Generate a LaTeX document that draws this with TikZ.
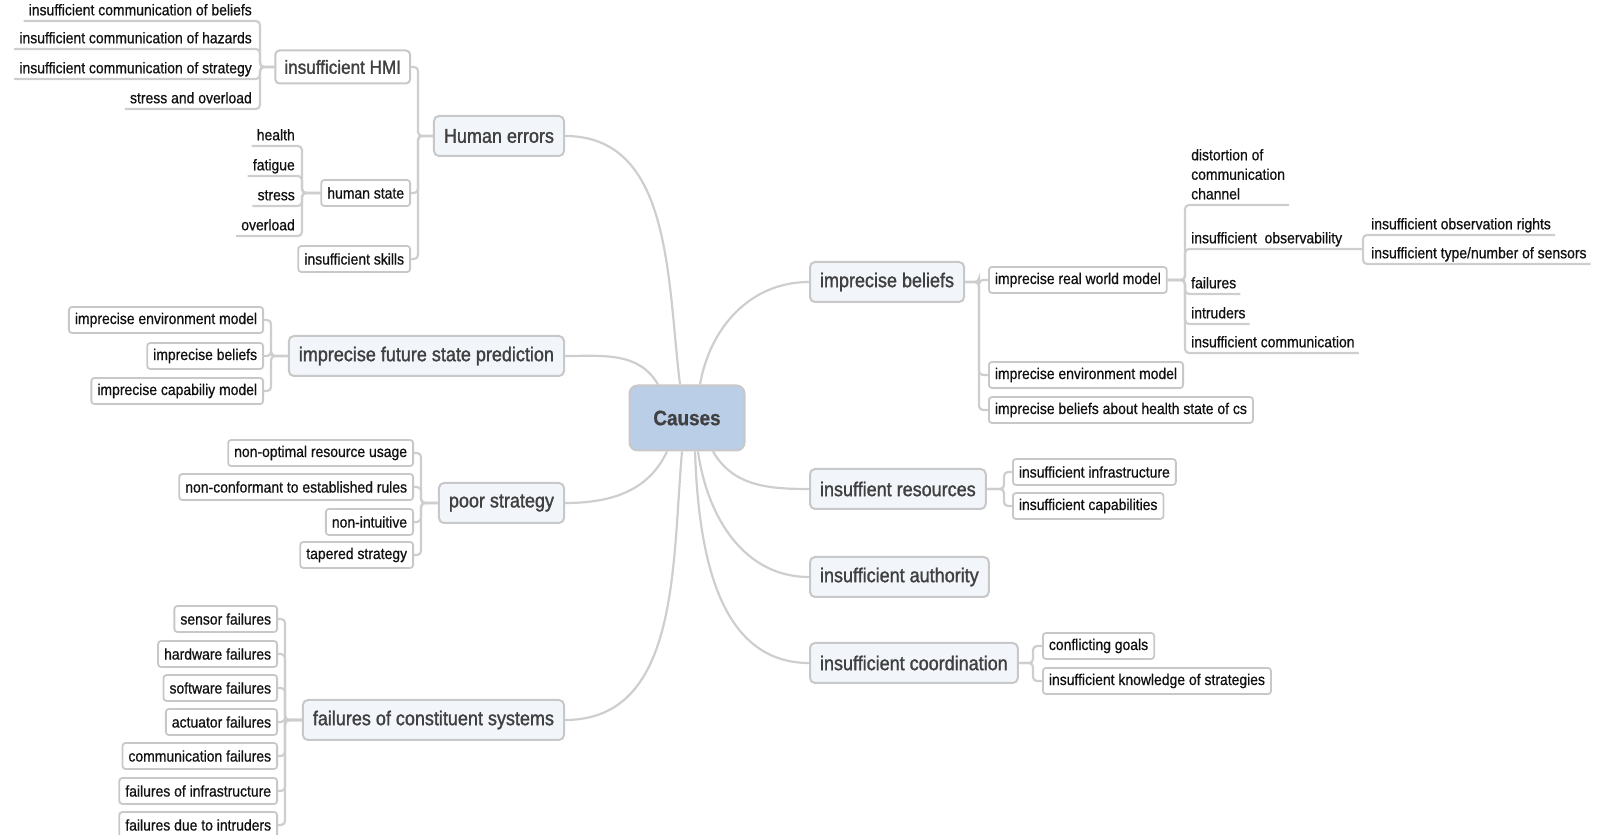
\documentclass[tikz,border=0pt]{standalone}
\usepackage{fontspec}
\setmainfont[FakeStretch=0.9,FakeBold=0.7]{Liberation Sans}
\newfontfamily\topicfont[FakeStretch=0.9,FakeBold=1.4]{Liberation Sans}
\usepackage{tikz}
\definecolor{rootfill}{RGB}{187,206,231}
\definecolor{topicfill}{RGB}{242,245,250}
\definecolor{boxline}{RGB}{200,200,200}
\definecolor{linkgray}{RGB}{206,206,206}
\definecolor{topictext}{RGB}{64,64,64}
\definecolor{leaftext}{RGB}{17,17,17}
\tikzstyle{link}=[draw=linkgray, line width=2.2pt, rounded corners=4pt]
\tikzstyle{root}=[draw=boxline, line width=2pt, fill=rootfill, rounded corners=8pt,
    minimum width=115pt, minimum height=65pt, text=topictext,
    font=\fontsize{21}{25}\selectfont\bfseries]
\tikzstyle{topic}=[draw=boxline, line width=2pt, fill=topicfill, rounded corners=5pt,
    minimum height=40pt, inner xsep=10pt, text=topictext, font=\topicfont\fontsize{20}{24}\selectfont]
\tikzstyle{subtopic}=[draw=boxline, line width=2pt, fill=white, rounded corners=4pt,
    minimum height=33pt, inner xsep=9pt, text=topictext, font=\topicfont\fontsize{19}{23}\selectfont]
\tikzstyle{item}=[draw=boxline, line width=1.8pt, fill=white, rounded corners=3pt,
    minimum height=26pt, inner xsep=6pt, text=leaftext, font=\fontsize{15.5}{19.5}\selectfont]
\tikzstyle{leaf}=[inner xsep=0pt, inner ysep=2pt, text depth=3.5pt, text=leaftext,
    font=\fontsize{15.5}{19.5}\selectfont]

\begin{document}
\begin{tikzpicture}[x=1pt,y=1pt]
    \useasboundingbox (0,0) rectangle (1606,835);

    \node[root] (causes) at (687,417) {Causes};

    % left main topics
    \node[topic, anchor=east] (human) at (565,699) {Human errors};
    \node[topic, anchor=east] (future) at (565,479) {imprecise future state prediction};
    \node[topic, anchor=east] (poor) at (565,332) {poor strategy};
    \node[topic, anchor=east] (failures) at (565,115) {failures of constituent systems};

    % right main topics
    \node[topic, anchor=west] (beliefs) at (809,553) {imprecise beliefs};
    \node[topic, anchor=west] (resources) at (809,346) {insuffient resources};
    \node[topic, anchor=west] (authority) at (809,258) {insufficient authority};
    \node[topic, anchor=west] (coord) at (809,172) {insufficient coordination};

    % human errors
    \node[subtopic, anchor=east] (hmi) at (411,768) {insufficient HMI};
    \node[item, anchor=east] (hstate) at (411,642) {human state};
    \node[item, anchor=east] (skills) at (411,576) {insufficient skills};
    \node[leaf, anchor=south east] (combel) at (252,814) {insufficient communication of beliefs};
    \node[leaf, anchor=south east] (comhaz) at (252,786) {insufficient communication of hazards};
    \node[leaf, anchor=south east] (comstr) at (252,756) {insufficient communication of strategy};
    \node[leaf, anchor=south east] (strov) at (252,726) {stress and overload};
    \node[leaf, anchor=south east] (health) at (295,689) {health};
    \node[leaf, anchor=south east] (fatigue) at (295,659) {fatigue};
    \node[leaf, anchor=south east] (stress) at (295,629) {stress};
    \node[leaf, anchor=south east] (overload) at (295,599) {overload};

    % future state prediction
    \node[item, anchor=east] (fenv) at (264,515) {imprecise environment model};
    \node[item, anchor=east] (fbel) at (264,479) {imprecise beliefs};
    \node[item, anchor=east] (fcap) at (264,444) {imprecise capabiliy model};

    % poor strategy
    \node[item, anchor=east] (nonopt) at (414,382) {non-optimal resource usage};
    \node[item, anchor=east] (nonconf) at (414,348) {non-conformant to established rules};
    \node[item, anchor=east] (nonint) at (414,313) {non-intuitive};
    \node[item, anchor=east] (tapered) at (414,280) {tapered strategy};

    % failures of constituent systems
    \node[item, anchor=east] (fsens) at (278,216) {sensor failures};
    \node[item, anchor=east] (fhard) at (278,181) {hardware failures};
    \node[item, anchor=east] (fsoft) at (278,147) {software failures};
    \node[item, anchor=east] (fact) at (278,113) {actuator failures};
    \node[item, anchor=east] (fcomm) at (278,79) {communication failures};
    \node[item, anchor=east] (finfra) at (278,44) {failures of infrastructure};
    \node[item, anchor=east] (fintr) at (278,10) {failures due to intruders};

    % imprecise beliefs
    \node[item, anchor=west] (rwm) at (988,555) {imprecise real world model};
    \node[item, anchor=west] (benv) at (988,460) {imprecise environment model};
    \node[item, anchor=west] (bhealth) at (988,425) {imprecise beliefs about health state of cs};
    \node[leaf, anchor=south west, align=left] (distort) at (1191,630) {distortion of\\communication\\channel};
    \node[leaf, anchor=south west] (observ) at (1191,586) {insufficient\ \ observability};
    \node[leaf, anchor=south west] (rfail) at (1191,541) {failures};
    \node[leaf, anchor=south west] (rintr) at (1191,511) {intruders};
    \node[leaf, anchor=south west] (rcomm) at (1191,482) {insufficient communication};
    \node[leaf, anchor=south west] (rights) at (1371,600) {insufficient observation rights};
    \node[leaf, anchor=south west] (sensors) at (1371,571) {insufficient type/number of sensors};

    % resources and coordination
    \node[item, anchor=west] (infra) at (1012,363) {insufficient infrastructure};
    \node[item, anchor=west] (capab) at (1012,329) {insufficient capabilities};
    \node[item, anchor=west] (goals) at (1042,189) {conflicting goals};
    \node[item, anchor=west] (knowl) at (1042,154) {insufficient knowledge of strategies};

    % junctions
    \coordinate (humanJ) at (418,0);
    \coordinate (hmiJ) at (260,0);
    \coordinate (hstateJ) at (302,0);
    \coordinate (futureJ) at (271,0);
    \coordinate (poorJ) at (421,0);
    \coordinate (failJ) at (285,0);
    \coordinate (beliefsJ) at (979,0);
    \coordinate (rwmJ) at (1185,0);
    \coordinate (obsJ) at (1363,0);
    \coordinate (resJ) at (1004,0);
    \coordinate (coordJ) at (1033,0);

    % from the centre
    \draw[link] ([xshift=-7pt]causes.north) to[out=97,in=0] (human.east);
    \draw[link] ([xshift=-29pt]causes.north) to[out=120,in=0] (future.east);
    \draw[link] ([xshift=13pt]causes.north) to[out=80,in=180] (beliefs.west);
    \draw[link] ([xshift=-20pt]causes.south) to[out=-115,in=0] (poor.east);
    \draw[link] ([xshift=-5pt]causes.south) to[out=-95,in=0] (failures.east);
    \draw[link] ([xshift=26pt]causes.south) to[out=-60,in=180] (resources.west);
    \draw[link] ([xshift=11pt]causes.south) to[out=-82,in=180] (authority.west);
    \draw[link] ([xshift=8pt]causes.south) to[out=-88,in=180] (coord.west);

    % left brackets
    \draw[link] (human.west) -- (human.west -| humanJ) |- (hmi.east);
    \draw[link] (human.west) -- (human.west -| humanJ) |- (hstate.east);
    \draw[link] (human.west) -- (human.west -| humanJ) |- (skills.east);
    \draw[link] (hmi.west) -- (hmi.west -| hmiJ) |- ([xshift=-5pt]combel.south west);
    \draw[link] (hmi.west) -- (hmi.west -| hmiJ) |- ([xshift=-5pt]comhaz.south west);
    \draw[link] (hmi.west) -- (hmi.west -| hmiJ) |- ([xshift=-5pt]comstr.south west);
    \draw[link] (hmi.west) -- (hmi.west -| hmiJ) |- ([xshift=-5pt]strov.south west);
    \draw[link] (hstate.west) -- (hstate.west -| hstateJ) |- ([xshift=-5pt]health.south west);
    \draw[link] (hstate.west) -- (hstate.west -| hstateJ) |- ([xshift=-5pt]fatigue.south west);
    \draw[link] (hstate.west) -- (hstate.west -| hstateJ) |- ([xshift=-5pt]stress.south west);
    \draw[link] (hstate.west) -- (hstate.west -| hstateJ) |- ([xshift=-5pt]overload.south west);
    \draw[link] (future.west) -- (future.west -| futureJ) |- (fenv.east);
    \draw[link] (future.west) -- (future.west -| futureJ) |- (fbel.east);
    \draw[link] (future.west) -- (future.west -| futureJ) |- (fcap.east);
    \draw[link] (poor.west) -- (poor.west -| poorJ) |- (nonopt.east);
    \draw[link] (poor.west) -- (poor.west -| poorJ) |- (nonconf.east);
    \draw[link] (poor.west) -- (poor.west -| poorJ) |- (nonint.east);
    \draw[link] (poor.west) -- (poor.west -| poorJ) |- (tapered.east);
    \draw[link] (failures.west) -- (failures.west -| failJ) |- (fsens.east);
    \draw[link] (failures.west) -- (failures.west -| failJ) |- (fhard.east);
    \draw[link] (failures.west) -- (failures.west -| failJ) |- (fsoft.east);
    \draw[link] (failures.west) -- (failures.west -| failJ) |- (fact.east);
    \draw[link] (failures.west) -- (failures.west -| failJ) |- (fcomm.east);
    \draw[link] (failures.west) -- (failures.west -| failJ) |- (finfra.east);
    \draw[link] (failures.west) -- (failures.west -| failJ) |- (fintr.east);

    % right brackets
    \draw[link] (beliefs.east) -- (beliefs.east -| beliefsJ) |- (rwm.west);
    \draw[link] (beliefs.east) -- (beliefs.east -| beliefsJ) |- (benv.west);
    \draw[link] (beliefs.east) -- (beliefs.east -| beliefsJ) |- (bhealth.west);
    \draw[link] (rwm.east) -- (rwm.east -| rwmJ) |- ([xshift=4pt]distort.south east);
    \draw[link] (rwm.east) -- (rwm.east -| rwmJ) |- (observ.south -| obsJ);
    \draw[link] (rwm.east) -- (rwm.east -| rwmJ) |- ([xshift=4pt]rfail.south east);
    \draw[link] (rwm.east) -- (rwm.east -| rwmJ) |- ([xshift=4pt]rintr.south east);
    \draw[link] (rwm.east) -- (rwm.east -| rwmJ) |- ([xshift=4pt]rcomm.south east);
    \draw[link] (observ.south -| obsJ) |- ([xshift=4pt]rights.south east);
    \draw[link] (observ.south -| obsJ) |- ([xshift=4pt]sensors.south east);
    \draw[link] (resources.east) -- (resources.east -| resJ) |- (infra.west);
    \draw[link] (resources.east) -- (resources.east -| resJ) |- (capab.west);
    \draw[link] (coord.east) -- (coord.east -| coordJ) |- (goals.west);
    \draw[link] (coord.east) -- (coord.east -| coordJ) |- (knowl.west);
\end{tikzpicture}
\end{document}
